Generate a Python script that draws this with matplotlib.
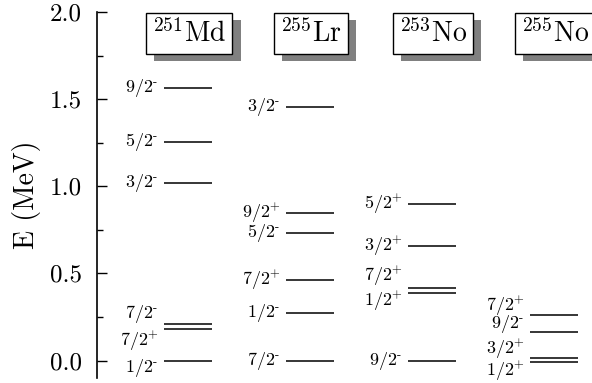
import matplotlib.pyplot as plt
import matplotlib.patheffects as pe

plt.rcParams['font.family'] = 'serif'
plt.rcParams['font.serif'] = ['cmr10']
plt.rcParams['mathtext.fontset'] = 'cm'
plt.rcParams['axes.formatter.use_mathtext'] = True
plt.rcParams['axes.unicode_minus'] = False

# Nuclei (column titles)
nuclei = ['$^{251}\\mathrm{Md}$', '$^{255}\\mathrm{Lr}$',
          '$^{253}\\mathrm{No}$', '$^{255}\\mathrm{No}$']

# Level energies (MeV) and spin-parity labels, one pair per nucleus
md251_e = [0.0, 0.184, 0.211, 1.02, 1.253, 1.563]
md251_j = ['1/2-', '7/2+', '7/2-', '3/2-', '5/2-', '9/2-']

lr255_e = [0.0, 0.272, 0.464, 0.732, 0.845, 1.455]
lr255_j = ['7/2-', '1/2-', '7/2+', '5/2-', '9/2+', '3/2-']

no253_e = [0.0, 0.387, 0.414, 0.659, 0.90]
no253_j = ['9/2-', '1/2+', '7/2+', '3/2+', '5/2+']

no255_e = [-0.007, 0.016, 0.163, 0.264]
no255_j = ['1/2+', '3/2+', '9/2-', '7/2+']

yticks = [0.0, 0.5, 1.0, 1.5, 2.0]
ytick_labels = ['0.0', '0.5', '1.0', '1.5', '2.0']

energies = [md251_e, lr255_e, no253_e, no255_e]
spins = [md251_j, lr255_j, no253_j, no255_j]

# label heights where labels are pushed apart to avoid overlap (layout only)
label_y = [
    [-0.045, 0.11, 0.27, None, None, None],
    [None] * 6,
    [None, 0.34, 0.485, None, None],
    [-0.061, 0.067, 0.207, 0.312],
]


def spin_label(j):
    # "9/2-" -> 9/2 with a short raised hyphen or plus
    return '$' + j[:-1] + '^{\\text{' + j[-1] + '}}$'


fig = plt.figure(figsize=(5.92, 3.83), dpi=100)
ax = fig.add_axes([97 / 592, 5 / 383, 495 / 592, 366 / 383])

half = 0.197
for i, (es, js) in enumerate(zip(energies, spins)):
    for k, (e, j) in enumerate(zip(es, js)):
        ax.plot([i - half, i + half], [e, e], color='black', lw=1.1,
                solid_capstyle='butt')
        ly = label_y[i][k] if label_y[i][k] is not None else e
        ax.text(i - 0.24, ly, spin_label(j), ha='right', va='center',
                fontsize=13)

for i, name in enumerate(nuclei):
    t = ax.text(i + 0.01, 1.876, name, ha='center', va='center', fontsize=20,
                bbox=dict(boxstyle='square,pad=0.22', facecolor='white',
                          edgecolor='black', lw=1.0))
    t.get_bbox_patch().set_path_effects([
        pe.SimplePatchShadow(offset=(5.8, -5.0), shadow_rgbFace='#808080',
                             alpha=1.0),
        pe.Normal()])

ax.set_xlim(-0.746, 3.311)
ax.set_ylim(-0.1, 2.0)
for s in ['top', 'right', 'bottom']:
    ax.spines[s].set_visible(False)
ax.spines['left'].set_linewidth(1.2)
ax.set_xticks([])
ax.set_yticks(yticks)
ax.set_yticklabels(ytick_labels)
ax.set_yticks([0.25, 0.75, 1.25, 1.75], minor=True)
ax.tick_params(axis='y', which='major', direction='in', length=7.5, width=1.0,
               pad=11, labelsize=18)
ax.tick_params(axis='y', which='minor', direction='in', length=4, width=1.0)
ax.set_ylabel('E (MeV)', fontsize=20, labelpad=6)

fig.savefig('out.png', dpi=100)
